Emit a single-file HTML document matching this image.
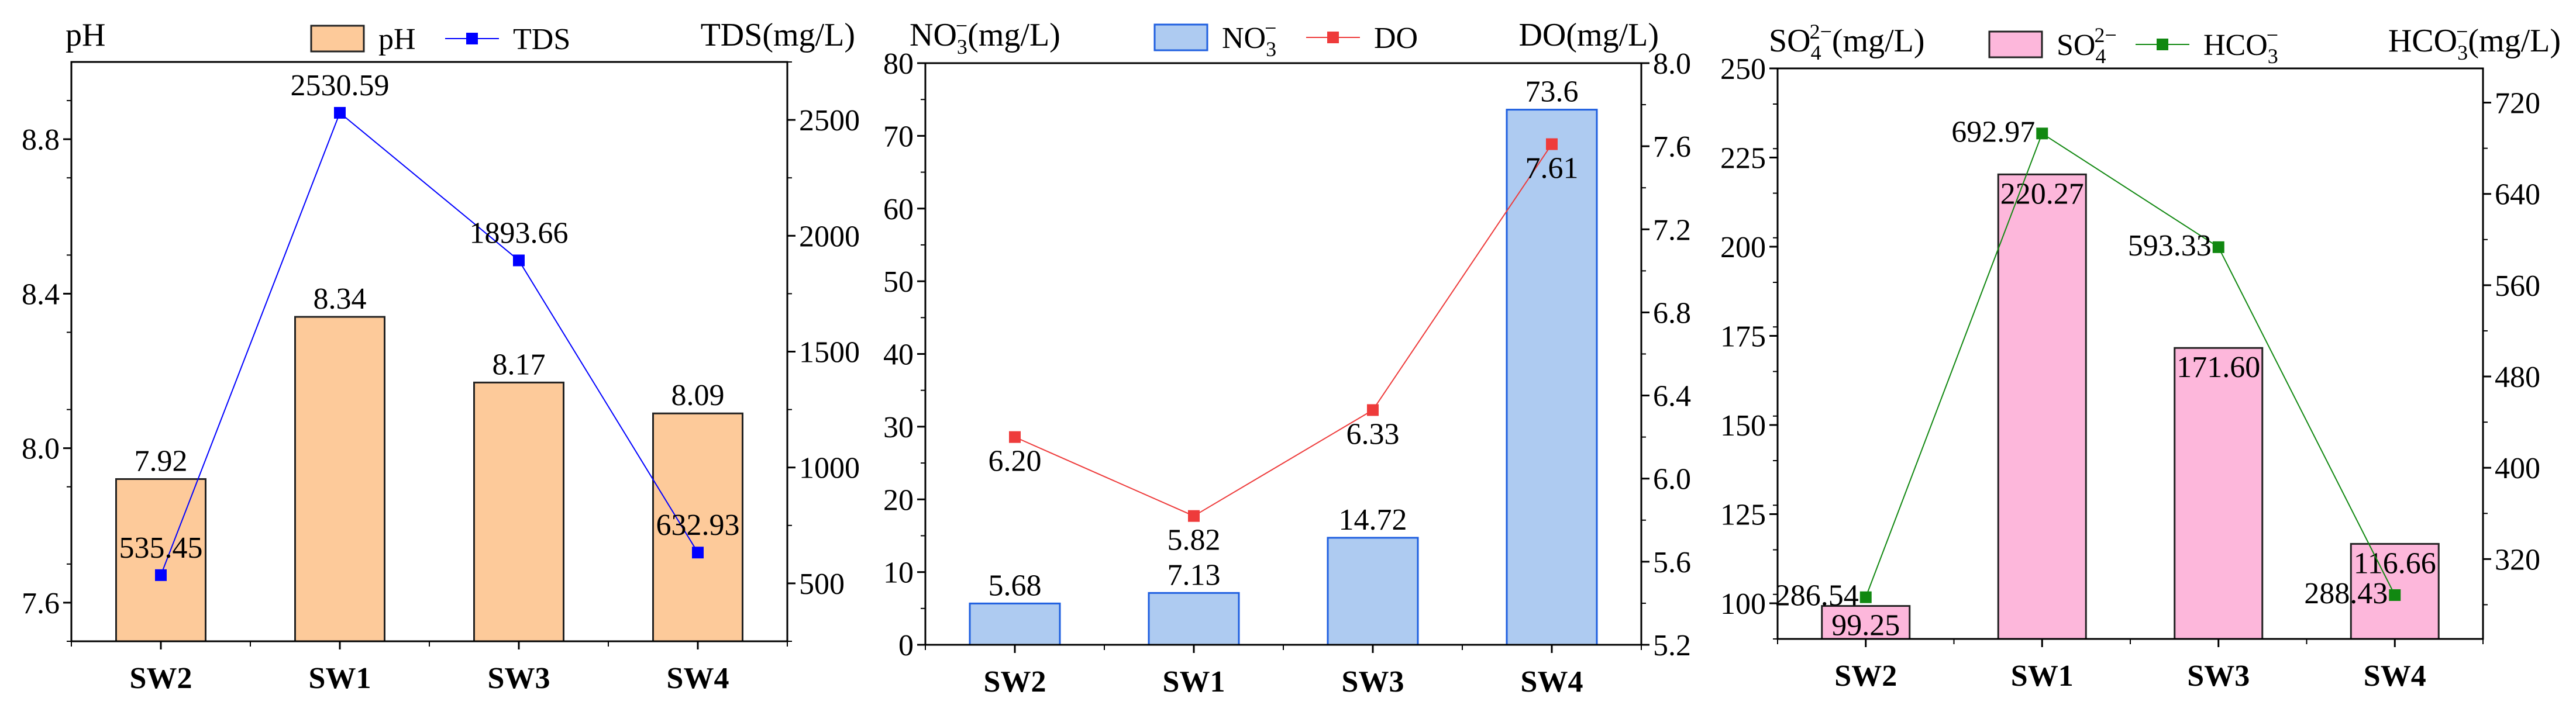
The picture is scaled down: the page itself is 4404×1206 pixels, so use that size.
<!DOCTYPE html>
<html><head><meta charset="utf-8"><style>
html,body{margin:0;padding:0;background:#fff}
svg, svg text{font-family:"Liberation Serif","Times New Roman",serif}
</style></head><body>
<svg id="c" width="4404" height="1201" viewBox="0 0 4404 1201" xmlns="http://www.w3.org/2000/svg" font-family="Liberation Serif, serif"></svg>
<script>
const categories = ["SW2","SW1","SW3","SW4"];
const phValues = [7.92, 8.34, 8.17, 8.09];
const tdsValues = [535.45, 2530.59, 1893.66, 632.93];
const no3Values = [5.68, 7.13, 14.72, 73.6];
const doValues = [6.20, 5.82, 6.33, 7.61];
const so4Values = [99.25, 220.27, 171.60, 116.66];
const hco3Values = [286.54, 692.97, 593.33, 288.43];
const phLabels = ["7.92","8.34","8.17","8.09"];
const tdsLabels = ["535.45","2530.59","1893.66","632.93"];
const no3Labels = ["5.68","7.13","14.72","73.6"];
const doLabels = ["6.20","5.82","6.33","7.61"];
const so4Labels = ["99.25","220.27","171.60","116.66"];
const hco3Labels = ["286.54","692.97","593.33","288.43"];
const phTicks = ["7.6","8.0","8.4","8.8"];
const tdsTicks = ["500","1000","1500","2000","2500"];
const no3Ticks = ["0","10","20","30","40","50","60","70","80"];
const doTicks = ["5.2","5.6","6.0","6.4","6.8","7.2","7.6","8.0"];
const so4Ticks = ["100","125","150","175","200","225","250"];
const hco3Ticks = ["320","400","480","560","640","720"];

const NS="http://www.w3.org/2000/svg";
const svg=document.getElementById('c');
function el(tag,attrs,parent,text){const e=document.createElementNS(NS,tag);for(const k in attrs)e.setAttribute(k,attrs[k]);if(tag==='text')e.setAttribute('font-family','Liberation Serif, serif');if(text!==undefined)e.textContent=text;(parent||svg).appendChild(e);return e;}

function panel(o){
  const g=el('g',{});
  
  
  const L=o.L,R=o.R,T=o.T,B=o.B;
  const yl=v=>B-(v-o.lmin)/(o.lmax-o.lmin)*(B-T);
  const yr=v=>B-(v-o.rmin)/(o.rmax-o.rmin)*(B-T);
  const step=(R-L)/categories.length;
  const xc=i=>L+step*(i+0.5);
  o.bars.forEach((v,i)=>{
    const y=yl(v);
    const r=el('rect',{x:xc(i)-o.bw/2,y:y,width:o.bw,height:B-y,fill:o.barFill,stroke:o.barStroke,'stroke-width':3},g);
    
    
    let ty=o.barLabelInside? y+50 : y-14;
    const t=el('text',{x:xc(i),y:ty,'font-size':52,'text-anchor':'middle',fill:'#000'},g,o.barLabels[i]);
    
    
  });
  const pts=o.line.map((v,i)=>xc(i)+','+yr(v)).join(' ');
  const pl=el('polyline',{points:pts,fill:'none',stroke:o.lineColor,'stroke-width':2},g);
  
  
  o.line.forEach((v,i)=>{
    const m=el('rect',{x:xc(i)-10,y:yr(v)-10,width:20,height:20,fill:o.lineColor},g);
    
    
    let tx=xc(i),ty,anchor='middle';
    if(o.lineLabelPos==='above'){ty=yr(v)-30;}
    else if(o.lineLabelPos==='below'){ty=yr(v)+58;}
    else {tx=xc(i)-12;ty=yr(v)+14;anchor='end';}
    const t=el('text',{x:tx,y:ty,'font-size':52,'text-anchor':anchor,fill:'#000'},g,o.lineLabels[i]);
    
    
  });
  const f=el('rect',{x:L,y:T,width:R-L,height:B-T,fill:'none',stroke:'#000','stroke-width':3},g);
  
  
  o.lTicks.forEach(s=>{const v=parseFloat(s),y=yl(v);
    el('line',{x1:L-14,x2:L,y1:y,y2:y,stroke:'#000','stroke-width':3},g);
    const t=el('text',{x:L-20,y:y+18,'font-size':52,'text-anchor':'end'},g,s);
    
    
  });
  for(let v=o.lmin;v<=o.lmax+1e-9;v+=o.lMinor){const y=yl(v);el('line',{x1:L-8,x2:L,y1:y,y2:y,stroke:'#000','stroke-width':2},g);}
  o.rTicks.forEach(s=>{const v=parseFloat(s),y=yr(v);
    el('line',{x1:R,x2:R+14,y1:y,y2:y,stroke:'#000','stroke-width':3},g);
    const t=el('text',{x:R+20,y:y+18,'font-size':52,'text-anchor':'start'},g,s);
    
    
  });
  for(let v=o.rMinorStart;v<=o.rmax+1e-9;v+=o.rMinor){const y=yr(v);el('line',{x1:R,x2:R+8,y1:y,y2:y,stroke:'#000','stroke-width':2},g);}
  categories.forEach((c,i)=>{
    el('line',{x1:xc(i),x2:xc(i),y1:B,y2:B+14,stroke:'#000','stroke-width':3},g);
    const t=el('text',{x:xc(i),y:B+80,'font-size':52,'font-weight':'bold','text-anchor':'middle'},g,c);
    
    
  });
  for(let i=0;i<=categories.length;i++){const x=L+step*i;el('line',{x1:x,x2:x,y1:B,y2:B+9,stroke:'#000','stroke-width':2},g);}
  const lt=el('text',{x:o.ltX,y:o.titleY,'font-size':56},g);lt.innerHTML=o.lTitle;
  
  
  const rt=el('text',{x:o.rtX,y:o.titleY,'font-size':56,'text-anchor':'end'},g);rt.innerHTML=o.rTitle;
  
  
  const lg=el('g',{},g);
  
  
  el('rect',{x:o.legX,y:o.legY,width:90,height:44,fill:o.barFill,stroke:o.barStroke,'stroke-width':3},lg);
  const t1=el('text',{x:o.legX+115,y:o.legY+40,'font-size':52},lg);t1.innerHTML=o.legBar;
  
  
  const lx=o.legX+o.legLineDx;
  el('line',{x1:lx,x2:lx+92,y1:o.legY+22,y2:o.legY+22,stroke:o.lineColor,'stroke-width':2},lg);
  el('rect',{x:lx+36,y:o.legY+12,width:20,height:20,fill:o.lineColor},lg);
  const t2=el('text',{x:lx+116,y:o.legY+40,'font-size':52},lg);t2.innerHTML=o.legLine;
  
  
}
panel({name:'ph-tds-panel',L:122,R:1346,T:106,B:1097,lmin:7.5,lmax:9.0,lMinor:0.2,rmin:250,rmax:2750,rMinor:250,rMinorStart:250,
  bars:phValues,barLabels:phLabels,line:tdsValues,lineLabels:tdsLabels,bw:153,barFill:'#FDCA9A',barStroke:'#222',lineColor:'#0000FF',
  lineLabelPos:'above',lTicks:phTicks,rTicks:tdsTicks,lTitle:'pH',rTitle:'TDS(mg/L)',ltX:112,rtX:1462,titleY:78,
  legX:532,legY:44,legLineDx:229,legBar:'pH',legLine:'TDS'});
panel({name:'no3-do-panel',L:1582,R:2806,T:108,B:1103,lmin:0,lmax:80,lMinor:5,rmin:5.2,rmax:8.0,rMinor:0.2,rMinorStart:5.2,
  bars:no3Values,barLabels:no3Labels,line:doValues,lineLabels:doLabels,bw:154,barFill:'#AECBF1',barStroke:'#1F5FE0',lineColor:'#EE3B3B',
  lineLabelPos:'below',lTicks:no3Ticks,rTicks:doTicks,lTitle:'NO<tspan font-size="36" dy="14">3</tspan><tspan font-size="36" dx="-20" dy="-36">−</tspan><tspan dy="22">(mg/L)</tspan>',rTitle:'DO(mg/L)',ltX:1555,rtX:2836,titleY:78,
  legX:1974,legY:42,legLineDx:259,legBar:'NO<tspan font-size="36" dy="14">3</tspan><tspan font-size="36" dx="-20" dy="-36">−</tspan>',legLine:'DO'});
panel({name:'so4-hco3-panel',L:3039,R:4245,T:117,B:1093,lmin:90,lmax:250,lMinor:12.5,rmin:250,rmax:750,rMinor:40,rMinorStart:280,
  bars:so4Values,barLabels:so4Labels,line:hco3Values,lineLabels:hco3Labels,bw:150,barFill:'#FDB7DB',barStroke:'#222',lineColor:'#118811',
  lineLabelPos:'left',lTicks:so4Ticks,rTicks:hco3Ticks,barLabelInside:true,lTitle:'SO<tspan font-size="36" dy="14">4</tspan><tspan font-size="36" dx="-20" dy="-36">2−</tspan><tspan dy="22">(mg/L)</tspan>',rTitle:'HCO<tspan font-size="36" dy="14">3</tspan><tspan font-size="36" dx="-20" dy="-36">−</tspan><tspan dy="22">(mg/L)</tspan>',ltX:3024,rtX:4378,titleY:88,
  legX:3401,legY:54,legLineDx:250,legBar:'SO<tspan font-size="36" dy="14">4</tspan><tspan font-size="36" dx="-20" dy="-36">2−</tspan>',legLine:'HCO<tspan font-size="36" dy="14">3</tspan><tspan font-size="36" dx="-20" dy="-36">−</tspan>'});
</script>
</body></html>
